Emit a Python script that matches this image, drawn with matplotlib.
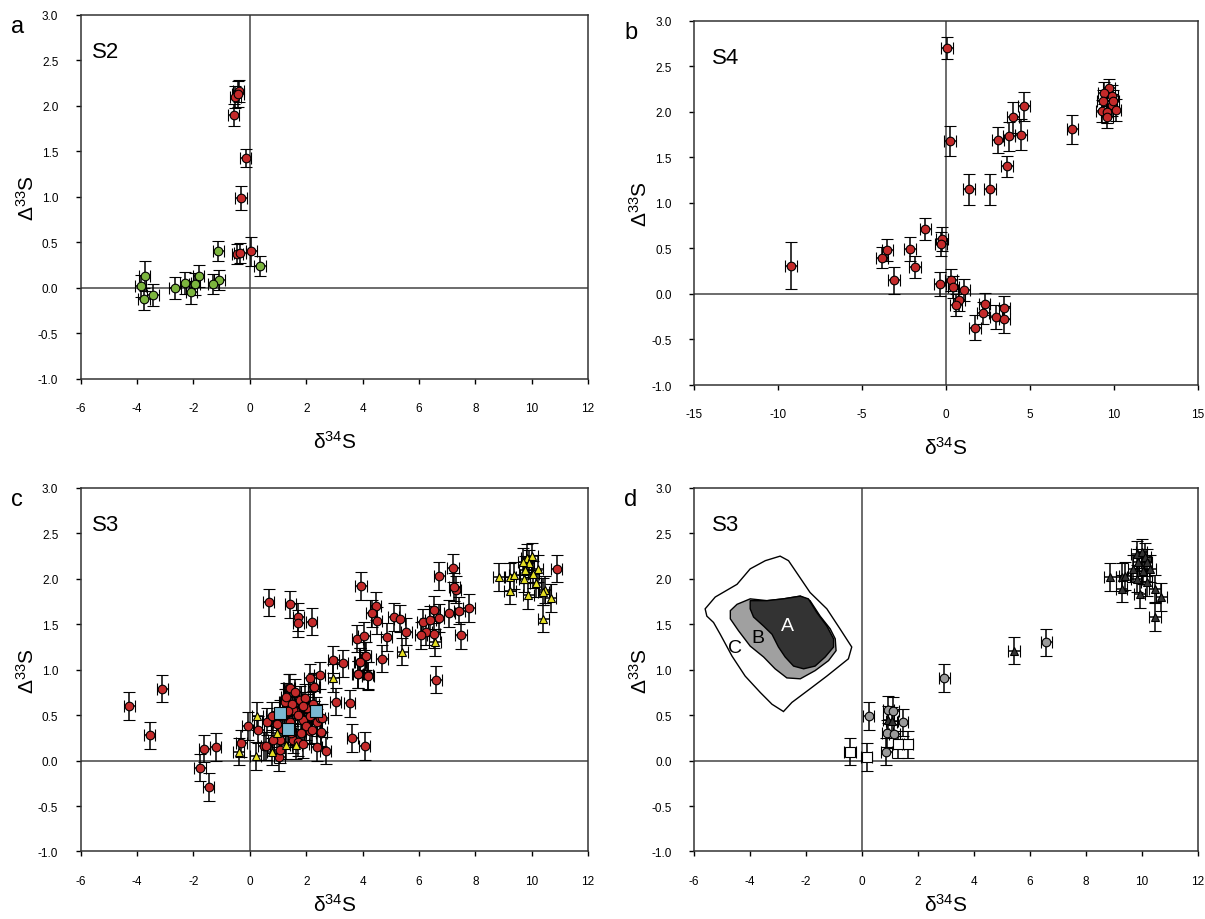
import matplotlib
matplotlib.use("Agg")
import matplotlib.pyplot as plt
from matplotlib.patches import Polygon

plt.rcParams['font.family'] = ['Liberation Sans', 'DejaVu Sans']
plt.rcParams['mathtext.default'] = 'regular'
plt.rcParams['axes.unicode_minus'] = False

# ---- panel a (S2) ----
a_red_x = [-0.39, -0.51, -0.42, -0.57, -0.15, -0.31, -0.45, -0.35, 0.05]
a_red_y = [2.16, 2.10, 2.13, 1.90, 1.43, 0.99, 0.37, 0.38, 0.40]
a_red_ye = [0.12, 0.12, 0.14, 0.12, 0.10, 0.13, 0.11, 0.11, 0.16]
a_grn_x = [0.36, -1.12, -1.08, -1.29, -1.82, -1.96, -2.07, -2.29, -2.66, -3.44, -3.73, -3.87, -3.76]
a_grn_y = [0.24, 0.41, 0.09, 0.04, 0.13, 0.04, -0.05, 0.05, 0.00, -0.08, 0.13, 0.02, -0.12]
a_grn_ye = [0.11, 0.11, 0.11, 0.11, 0.12, 0.12, 0.13, 0.12, 0.12, 0.12, 0.16, 0.12, 0.12]

# ---- panel b (S4) ----
b_x = [0.08, 0.26, -1.21, -0.24, -0.30, -2.11, -3.47, -3.78, -9.22, -3.07, -1.84,
       -0.36, 0.30, 0.46, 1.09, 0.79, 0.60, 1.73, 2.31, 2.23, 3.0, 3.5, 3.5,
       1.37, 2.65, 3.63, 3.11, 3.78, 4.48, 4.02, 4.66, 7.55,
       9.74, 9.44, 9.90, 9.37, 9.88, 9.31, 9.62, 10.12, 9.61, 9.98]
b_y = [2.70, 1.68, 0.71, 0.60, 0.55, 0.49, 0.48, 0.40, 0.31, 0.15, 0.30,
       0.11, 0.15, 0.08, 0.04, -0.07, -0.12, -0.37, -0.11, -0.21, -0.25, -0.28, -0.15,
       1.15, 1.15, 1.40, 1.69, 1.73, 1.75, 1.94, 2.06, 1.81,
       2.26, 2.21, 2.17, 2.12, 2.07, 2.01, 2.00, 2.02, 1.94, 2.12]
b_ye = [0.12, 0.16, 0.12, 0.13, 0.13, 0.13, 0.12, 0.12, 0.26, 0.15, 0.12,
        0.13, 0.12, 0.12, 0.12, 0.12, 0.12, 0.14, 0.12, 0.12, 0.13, 0.15, 0.13,
        0.17, 0.17, 0.12, 0.14, 0.16, 0.17, 0.17, 0.16, 0.16,
        0.10, 0.12, 0.12, 0.12, 0.12, 0.12, 0.12, 0.12, 0.12, 0.12]

# ---- panel c (S3) ----
c_red_x = [-4.28, -3.11, -3.56, -1.61, -1.21, -1.77, -1.46,
           0.67, 1.44, 1.72, 1.72, 2.19,
           -0.30, -0.07, 0.50, 0.62, 0.30, 1.04,
           2.13, 2.28, 1.38, 1.28, 1.87, 2.03, 2.15, 2.37, 1.60,
           2.96, 3.30, 2.48, 3.04, 3.54, 3.63, 4.08, 2.69, 2.53, 3.92, 4.18, 3.83, 4.10,
           1.42, 1.24, 1.60, 1.77, 1.95, 2.04, 2.01, 2.19, 2.37, 2.54, 1.54, 1.72,
           1.89, 1.06, 1.42, 1.54, 1.18, 0.77, 0.83, 0.59, 1.06, 2.48, 2.13,
           1.30, 1.50, 1.70, 1.35, 1.90, 1.15, 0.95, 1.80, 2.25, 1.45,
           3.94, 4.46, 4.32, 4.50, 5.11, 5.32, 5.55, 4.86, 3.82, 4.05, 4.11, 3.90,
           4.69, 3.85, 4.19, 6.61, 6.13, 6.41, 6.54, 6.26, 6.07, 6.54, 6.70, 7.08,
           7.43, 7.78, 7.49, 6.72, 7.21, 7.30, 7.25, 10.89, 2.57, 2.27]
c_red_y = [0.60, 0.79, 0.28, 0.13, 0.15, -0.08, -0.29,
           1.74, 1.72, 1.58, 1.51, 1.53,
           0.19, 0.38, 0.16, 0.43, 0.34, 0.04,
           0.91, 0.81, 0.80, 0.64, 0.45, 0.58, 0.33, 0.15, 0.55,
           1.11, 1.07, 0.94, 0.65, 0.63, 0.25, 0.16, 0.11, 0.30, 1.09, 0.94, 0.95, 1.15,
           0.80, 0.64, 0.75, 0.67, 0.69, 0.58, 0.38, 0.34, 0.42, 0.31, 0.23, 0.20,
           0.18, 0.23, 0.42, 0.56, 0.49, 0.49, 0.23, 0.16, 0.12, 0.47, 0.49,
           0.70, 0.62, 0.50, 0.55, 0.60, 0.35, 0.40, 0.30, 0.62, 0.30,
           1.92, 1.70, 1.62, 1.54, 1.58, 1.56, 1.42, 1.36, 1.34, 1.37, 1.15, 1.09,
           1.12, 0.95, 0.93, 0.89, 1.52, 1.55, 1.66, 1.42, 1.38, 1.39, 1.57, 1.62,
           1.65, 1.68, 1.38, 2.03, 2.12, 1.88, 1.91, 2.11, 0.47, 0.81]
c_yel_x = [0.27, -0.39, 0.21, 0.95, 0.80, 1.30, 1.64, 2.96, 5.41, 6.57,
           8.84, 9.23, 9.38, 9.74, 9.82, 10.01, 9.90, 10.21, 10.14, 10.47,
           10.41, 10.67, 10.41, 9.88, 9.23, 9.76, 10.06, 9.70]
c_yel_y = [0.49, 0.10, 0.05, 0.30, 0.10, 0.17, 0.17, 0.91, 1.20, 1.30,
           2.02, 2.02, 2.04, 2.00, 2.23, 2.25, 2.17, 2.11, 1.95, 1.88,
           1.86, 1.79, 1.56, 1.82, 1.87, 2.10, 2.05, 2.19]
c_blu_x = [1.06, 1.35, 2.34]
c_blu_y = [0.52, 0.35, 0.55]

# ---- panel d (S3) ----
d_gry_x = [2.95, 0.25, 0.95, 1.13, 1.46, 0.91, 1.16, 0.87, 6.60]
d_gry_y = [0.91, 0.49, 0.56, 0.55, 0.42, 0.30, 0.29, 0.10, 1.30]
d_wht_x = [-0.42, 0.18, 1.31, 1.64]
d_wht_y = [0.10, 0.04, 0.18, 0.18]
d_tri_x = [0.95, 1.08, 5.44, 8.87, 9.29, 9.40, 9.29, 9.82, 10.00, 10.12, 9.88,
           10.18, 10.30, 9.82, 10.18, 10.48, 10.71, 10.48, 9.94, 9.70, 10.05]
d_tri_y = [0.45, 0.44, 1.21, 2.02, 2.02, 2.03, 1.89, 2.27, 2.29, 2.24, 2.18,
           2.18, 2.11, 2.00, 1.96, 1.89, 1.80, 1.58, 1.83, 2.11, 2.09]

# fields A, B, C in panel d
field_c = [(-5.60, 1.67), (-5.24, 1.80), (-4.46, 1.94), (-3.99, 2.11), (-3.45, 2.20),
           (-2.92, 2.25), (-2.62, 2.20), (-1.85, 1.85), (-1.25, 1.67), (-0.78, 1.45),
           (-0.36, 1.25), (-0.48, 1.12), (-1.25, 0.93), (-1.85, 0.79), (-2.50, 0.64),
           (-2.80, 0.54), (-3.21, 0.62), (-3.63, 0.75), (-4.17, 0.93), (-4.64, 1.15),
           (-5.06, 1.39), (-5.30, 1.52), (-5.54, 1.59)]
field_b = [(-4.70, 1.65), (-4.46, 1.72), (-3.99, 1.78), (-3.39, 1.76), (-2.80, 1.78),
           (-2.20, 1.81), (-1.85, 1.76), (-1.49, 1.59), (-1.13, 1.45), (-0.95, 1.34),
           (-0.92, 1.21), (-1.19, 1.10), (-1.67, 0.99), (-2.20, 0.90), (-2.68, 0.91),
           (-3.10, 1.01), (-3.51, 1.14), (-3.99, 1.26), (-4.41, 1.43), (-4.70, 1.56)]
field_a = [(-3.99, 1.76), (-3.39, 1.76), (-2.80, 1.78), (-2.20, 1.81), (-1.91, 1.78),
           (-1.61, 1.63), (-1.25, 1.48), (-1.01, 1.34), (-1.01, 1.25), (-1.31, 1.14),
           (-1.67, 1.04), (-2.08, 1.01), (-2.44, 1.04), (-2.74, 1.14), (-2.98, 1.25),
           (-3.21, 1.39), (-3.51, 1.48), (-3.87, 1.58), (-3.99, 1.67)]

RED = '#c42a2a'
GRN = '#7cb53e'
YEL = '#e6e022'
BLU = '#7ab8d2'
GRY = '#9a9a9a'
DRK = '#333333'


def pts(ax, x, y, ye, xe, marker, fc, ms):
    ax.errorbar(x, y, yerr=ye, xerr=xe, fmt=marker, mfc=fc, mec='black', mew=0.8,
                ms=ms, ecolor='black', elinewidth=1.1, capsize=4, capthick=1.1,
                zorder=3)


def style(ax, xlim, xticks, name, letter, name_x, xlab_y=-0.14):
    ax.set_xlim(*xlim)
    ax.set_ylim(-1.0, 3.0)
    ax.set_xticks(xticks)
    ax.set_yticks([-1.0, -0.5, 0.0, 0.5, 1.0, 1.5, 2.0, 2.5, 3.0])
    ax.set_yticklabels(['%.1f' % v for v in ax.get_yticks()])
    ax.axhline(0, color='#444444', lw=1.1, zorder=1)
    ax.axvline(0, color='#444444', lw=1.1, zorder=1)
    for s in ax.spines.values():
        s.set_linewidth(1.1)
        s.set_color('#333333')
    ax.tick_params(direction='out', length=3.6, width=1.0, labelsize=8.5,
                   top=False, right=False)
    ax.tick_params(axis='y', pad=12.5)
    ax.tick_params(axis='x', pad=13)
    ax.set_xlabel(r'$\delta^{34}$S', fontsize=15)
    ax.set_ylabel(r'$\Delta^{33}$S', fontsize=15)
    ax.xaxis.set_label_coords(0.5, xlab_y)
    ax.yaxis.set_label_coords(-0.085, 0.5)
    ax.text(name_x, 0.9, name, transform=ax.transAxes, fontsize=16,
            ha='left', va='center')
    ax.text(-0.125, 0.97, letter, transform=ax.transAxes, fontsize=17,
            ha='center', va='center')


fig = plt.figure(figsize=(12.05, 9.2), dpi=100)
ax_a = fig.add_axes([0.0670, 0.5870, 0.4210, 0.3960])
ax_b = fig.add_axes([0.5759, 0.5804, 0.4179, 0.3960])
ax_c = fig.add_axes([0.0670, 0.0734, 0.4210, 0.3951])
ax_d = fig.add_axes([0.5759, 0.0734, 0.4179, 0.3951])

# a
pts(ax_a, a_grn_x, a_grn_y, a_grn_ye, 0.2, 'o', GRN, 6.2)
pts(ax_a, a_red_x, a_red_y, a_red_ye, 0.2, 'o', RED, 6.2)
style(ax_a, (-6, 12), range(-6, 13, 2), 'S2', 'a', 0.022)

# b
pts(ax_b, b_x, b_y, b_ye, 0.35, 'o', RED, 6.2)
style(ax_b, (-15, 15), range(-15, 16, 5), 'S4', 'b', 0.036)

# c
pts(ax_c, c_red_x, c_red_y, 0.15, 0.2, 'o', RED, 6.2)
pts(ax_c, c_yel_x, c_yel_y, 0.15, 0.2, '^', YEL, 6.0)
pts(ax_c, c_blu_x, c_blu_y, 0.15, 0.2, 's', BLU, 8.5)
style(ax_c, (-6, 12), range(-6, 13, 2), 'S3', 'c', 0.022, xlab_y=-0.115)

# d
ax_d.add_patch(Polygon(field_c, closed=True, fc='white', ec='black', lw=1.0, zorder=2))
ax_d.add_patch(Polygon(field_b, closed=True, fc='#a0a0a0', ec='black', lw=1.0, zorder=2))
ax_d.add_patch(Polygon(field_a, closed=True, fc='#333333', ec='black', lw=1.0, zorder=2))
ax_d.text(-2.66, 1.49, 'A', color='white', fontsize=14, ha='center', va='center', zorder=3)
ax_d.text(-3.73, 1.35, 'B', color='black', fontsize=14, ha='center', va='center', zorder=3)
ax_d.text(-4.53, 1.25, 'C', color='black', fontsize=14, ha='center', va='center', zorder=3)
pts(ax_d, d_wht_x, d_wht_y, 0.15, 0.2, 's', 'white', 7.0)
pts(ax_d, d_gry_x, d_gry_y, 0.15, 0.2, 'o', GRY, 6.2)
pts(ax_d, d_tri_x, d_tri_y, 0.15, 0.2, '^', DRK, 6.0)
style(ax_d, (-6, 12), range(-6, 13, 2), 'S3', 'd', 0.035, xlab_y=-0.115)

fig.savefig('out.png', dpi=100)
